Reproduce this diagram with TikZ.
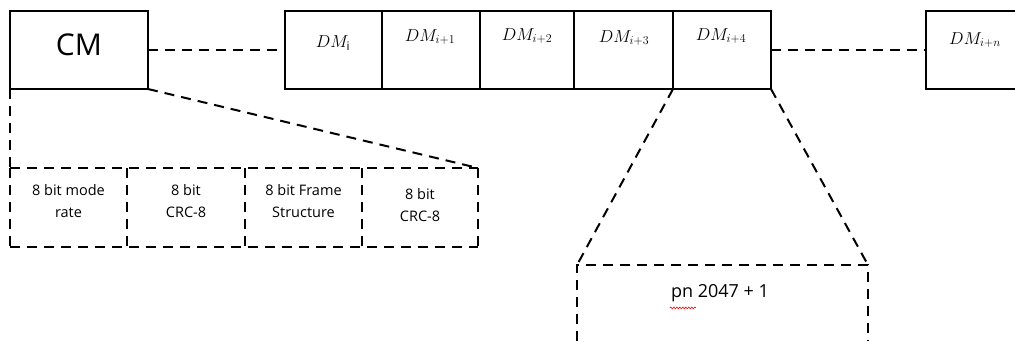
\documentclass[tikz,border=0pt]{standalone}
\usepackage{fontspec}
\setmainfont{Open Sans}
\usetikzlibrary{decorations.pathmorphing}
\begin{document}
\begin{tikzpicture}[x=1pt,y=-1pt,
  frame/.style={draw, line width=1.8pt, rectangle, inner sep=0pt, outer sep=0pt, minimum height=78pt},
  dashline/.style={line width=2pt, dash pattern=on 10pt off 7pt},
  field/.style={rectangle, inner sep=0pt, outer sep=0pt, minimum height=79pt},
  fieldtext/.style={font=\fontsize{14.5}{22}\selectfont, align=center, inner sep=0pt},
  dmlabel/.style={font=\fontsize{17}{18}\selectfont, inner sep=0pt},
]
\useasboundingbox (0,0) rectangle (1015,341);

% control message block
\node[frame, minimum width=138pt] (cm) at (79,50) {};
\node[font=\fontsize{30}{30}\selectfont, inner sep=0pt] (cmtext) at (79,45) {CM};

% data message blocks
\node[frame, minimum width=97pt] (dm1) at (333.5,50) {};
\node[frame, minimum width=98pt] (dm2) at (431,50) {};
\node[frame, minimum width=94pt] (dm3) at (527,50) {};
\node[frame, minimum width=99pt] (dm4) at (623.5,50) {};
\node[frame, minimum width=98pt] (dm5) at (722,50) {};
\node[dmlabel] (l1) at (333,43) {$DM_{\mathrm{i}}$};
\node[dmlabel] (l2) at (430,37) {$DM_{i+1}$};
\node[dmlabel] (l3) at (527,36) {$DM_{i+2}$};
\node[dmlabel] (l4) at (624,38) {$DM_{i+3}$};
\node[dmlabel] (l5) at (721,36) {$DM_{i+4}$};

% last data message block (open on the right)
\coordinate (dmnNE) at (1016,11);
\coordinate (dmnNW) at (926,11);
\coordinate (dmnSW) at (926,89);
\coordinate (dmnSE) at (1016,89);
\draw[line width=1.8pt] (dmnNE) -- (dmnNW) -- (dmnSW) -- (dmnSE);
\coordinate (dmnW) at (926,50);
\node[dmlabel] (ln) at (975,40) {$DM_{i+n}$};

% control message fields: one dashed stroke per edge
\node[field, minimum width=117pt] (f1) at (68.5,207.5) {};
\node[field, minimum width=118pt] (f2) at (186,207.5) {};
\node[field, minimum width=117pt] (f3) at (303.5,207.5) {};
\node[field, minimum width=116pt] (f4) at (420,207.5) {};
\draw[dashline] (f1.north west) -- (f4.north east);
\draw[dashline] (f1.south west) -- (f4.south east);
\foreach \f in {f1,f2,f3,f4}
  \draw[dashline] (\f.north west) -- (\f.south west);
\draw[dashline] (f4.north east) -- (f4.south east);
\node[fieldtext] (t1) at (68.5,201) {8 bit mode\\rate};
\node[fieldtext] (t2) at (186,201) {8 bit\\CRC-8};
\node[fieldtext] (t3) at (303.5,201) {8 bit Frame\\Structure};
\node[fieldtext] (t4) at (420,205) {8 bit\\CRC-8};

% pseudo-noise payload (open at the bottom)
\coordinate (pnSW) at (577,341);
\coordinate (pnNW) at (577,265);
\coordinate (pnNE) at (868,265);
\coordinate (pnSE) at (868,341);
\draw[dashline] (pnSW) -- (pnNW) -- (pnNE) -- (pnSE);
\node[font=\fontsize{18}{20}\selectfont, inner sep=0pt] (pn) at (720,293) {pn 2047 + 1};
\draw[red, line width=0.6pt, decorate, decoration={snake, segment length=3pt, amplitude=0.9pt}]
  ([xshift=-1pt,yshift=-6pt]pn.south west) -- ++(26,0);

% connectors
\draw[dashline] (cm.east) -- (dm1.west);
\draw[dashline] (dm5.east) -- (dmnW);
\draw[dashline] (cm.south west) -- (f1.north west);
\draw[dashline] (cm.south east) -- (f4.north east);
\draw[dashline] (dm5.south west) -- (pnNW);
\draw[dashline] (dm5.south east) -- (pnNE);
\end{tikzpicture}
\end{document}
